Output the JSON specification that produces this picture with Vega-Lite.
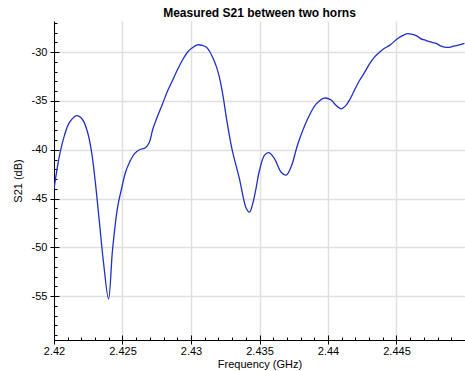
{
  "$schema": "https://vega.github.io/schema/vega-lite/v6.json",
  "width": 411,
  "height": 319,
  "autosize": "none",
  "padding": {"left": 54, "top": 21, "right": 0, "bottom": 31},
  "background": "white",
  "title": {"text": "Measured S21 between two horns", "font": "Liberation Sans", "fontSize": 12, "fontWeight": "bold", "color": "#000000", "anchor": "middle", "offset": 1},
  "config": {
    "view": {"stroke": null},
    "axis": {"labelFont": "Liberation Sans", "titleFont": "Liberation Sans", "labelFontSize": 11, "titleFontSize": 11, "titleFontWeight": "normal", "labelColor": "#000000", "titleColor": "#000000", "tickColor": "#000000", "domainColor": "#000000", "gridColor": "#e0e0e0", "gridWidth": 1.5}
  },
  "data": {"values": [
    {"f": 2.42000, "s21": -44.0},
    {"f": 2.42040, "s21": -40.6},
    {"f": 2.42077, "s21": -38.5},
    {"f": 2.42113, "s21": -37.2},
    {"f": 2.42166, "s21": -36.5},
    {"f": 2.42208, "s21": -36.9},
    {"f": 2.42245, "s21": -38.2},
    {"f": 2.42274, "s21": -40.2},
    {"f": 2.42303, "s21": -43.5},
    {"f": 2.42332, "s21": -47.5},
    {"f": 2.42361, "s21": -51.5},
    {"f": 2.42398, "s21": -55.3},
    {"f": 2.42427, "s21": -50.3},
    {"f": 2.42464, "s21": -45.9},
    {"f": 2.42493, "s21": -44.0},
    {"f": 2.42522, "s21": -42.3},
    {"f": 2.42551, "s21": -41.3},
    {"f": 2.42588, "s21": -40.4},
    {"f": 2.42624, "s21": -40.0},
    {"f": 2.42668, "s21": -39.8},
    {"f": 2.42697, "s21": -39.2},
    {"f": 2.42719, "s21": -38.0},
    {"f": 2.42755, "s21": -36.6},
    {"f": 2.42792, "s21": -35.3},
    {"f": 2.42828, "s21": -34.0},
    {"f": 2.42865, "s21": -32.9},
    {"f": 2.42901, "s21": -31.8},
    {"f": 2.42938, "s21": -30.8},
    {"f": 2.42974, "s21": -30.0},
    {"f": 2.43004, "s21": -29.6},
    {"f": 2.43047, "s21": -29.25},
    {"f": 2.43084, "s21": -29.3},
    {"f": 2.43113, "s21": -29.5},
    {"f": 2.43135, "s21": -29.9},
    {"f": 2.43157, "s21": -30.5},
    {"f": 2.43186, "s21": -31.5},
    {"f": 2.43208, "s21": -32.6},
    {"f": 2.43234, "s21": -34.5},
    {"f": 2.43257, "s21": -36.6},
    {"f": 2.43281, "s21": -38.6},
    {"f": 2.43305, "s21": -40.3},
    {"f": 2.43354, "s21": -43.0},
    {"f": 2.43403, "s21": -46.0},
    {"f": 2.43427, "s21": -46.4},
    {"f": 2.43451, "s21": -45.5},
    {"f": 2.43474, "s21": -44.0},
    {"f": 2.43500, "s21": -42.1},
    {"f": 2.43537, "s21": -40.55},
    {"f": 2.43568, "s21": -40.3},
    {"f": 2.43609, "s21": -40.9},
    {"f": 2.43658, "s21": -42.3},
    {"f": 2.43695, "s21": -42.6},
    {"f": 2.43731, "s21": -41.75},
    {"f": 2.43780, "s21": -39.4},
    {"f": 2.43853, "s21": -36.8},
    {"f": 2.43914, "s21": -35.3},
    {"f": 2.43974, "s21": -34.7},
    {"f": 2.44023, "s21": -34.9},
    {"f": 2.44055, "s21": -35.4},
    {"f": 2.44096, "s21": -35.8},
    {"f": 2.44128, "s21": -35.5},
    {"f": 2.44157, "s21": -34.9},
    {"f": 2.44193, "s21": -33.9},
    {"f": 2.44230, "s21": -32.9},
    {"f": 2.44266, "s21": -32.1},
    {"f": 2.44303, "s21": -31.2},
    {"f": 2.44339, "s21": -30.5},
    {"f": 2.44376, "s21": -30.0},
    {"f": 2.44412, "s21": -29.6},
    {"f": 2.44449, "s21": -29.3},
    {"f": 2.44509, "s21": -28.6},
    {"f": 2.44544, "s21": -28.3},
    {"f": 2.44582, "s21": -28.1},
    {"f": 2.44609, "s21": -28.15},
    {"f": 2.44644, "s21": -28.3},
    {"f": 2.44675, "s21": -28.6},
    {"f": 2.44717, "s21": -28.8},
    {"f": 2.44748, "s21": -28.95},
    {"f": 2.44790, "s21": -29.1},
    {"f": 2.44821, "s21": -29.35},
    {"f": 2.44863, "s21": -29.5},
    {"f": 2.44887, "s21": -29.5},
    {"f": 2.44911, "s21": -29.4},
    {"f": 2.44945, "s21": -29.3},
    {"f": 2.44996, "s21": -29.1}
  ]},
  "layer": [
    {
      "mark": {"type": "line", "color": "#1f2fc4", "strokeWidth": 1.3, "interpolate": "catmull-rom", "clip": true},
      "encoding": {
        "x": {"field": "f", "type": "quantitative", "scale": {"domain": [2.42, 2.45], "nice": false, "zero": false},
          "axis": {"orient": "bottom", "values": [2.42, 2.425, 2.43, 2.435, 2.44, 2.445], "labelExpr": "format(datum.value, '.3~f')", "tickSize": 4, "labelPadding": 1, "title": "Frequency (GHz)", "titlePadding": 2, "grid": true, "labelFlush": false, "labelOverlap": false}},
        "y": {"field": "s21", "type": "quantitative", "scale": {"domain": [-59.5, -26.8], "nice": false, "zero": false},
          "axis": {"orient": "left", "values": [-55, -50, -45, -40, -35, -30], "labelExpr": "datum.value + ''", "tickSize": 4, "labelPadding": 3, "title": "S21 (dB)", "titlePadding": 8, "grid": true, "labelOverlap": false}}
      }
    },
    {
      "mark": {"type": "line", "strokeOpacity": 0},
      "encoding": {
        "x": {"field": "f", "type": "quantitative", "axis": {"orient": "bottom", "values": [2.42, 2.425, 2.43, 2.435, 2.44, 2.445], "tickSize": -5, "labels": false, "domain": false, "grid": false, "title": null}},
        "y": {"field": "s21", "type": "quantitative", "axis": {"orient": "left", "values": [-55, -50, -45, -40, -35, -30], "tickSize": -5, "labels": false, "domain": false, "grid": false, "title": null}}
      }
    },
    {
      "mark": {"type": "line", "strokeOpacity": 0},
      "encoding": {
        "x": {"field": "f", "type": "quantitative", "axis": {"orient": "bottom", "values": [2.421, 2.422, 2.423, 2.424, 2.426, 2.427, 2.428, 2.429, 2.431, 2.432, 2.433, 2.434, 2.436, 2.437, 2.438, 2.439, 2.441, 2.442, 2.443, 2.444, 2.446, 2.447, 2.448, 2.449], "tickSize": -3, "labels": false, "domain": false, "grid": false, "title": null}},
        "y": {"field": "s21", "type": "quantitative", "axis": {"orient": "left", "values": [-59, -58, -57, -56, -54, -53, -52, -51, -49, -48, -47, -46, -44, -43, -42, -41, -39, -38, -37, -36, -34, -33, -32, -31, -29, -28, -27], "tickSize": -3, "labels": false, "domain": false, "grid": false, "title": null}}
      }
    }
  ],
  "resolve": {"axis": {"x": "independent", "y": "independent"}}
}
